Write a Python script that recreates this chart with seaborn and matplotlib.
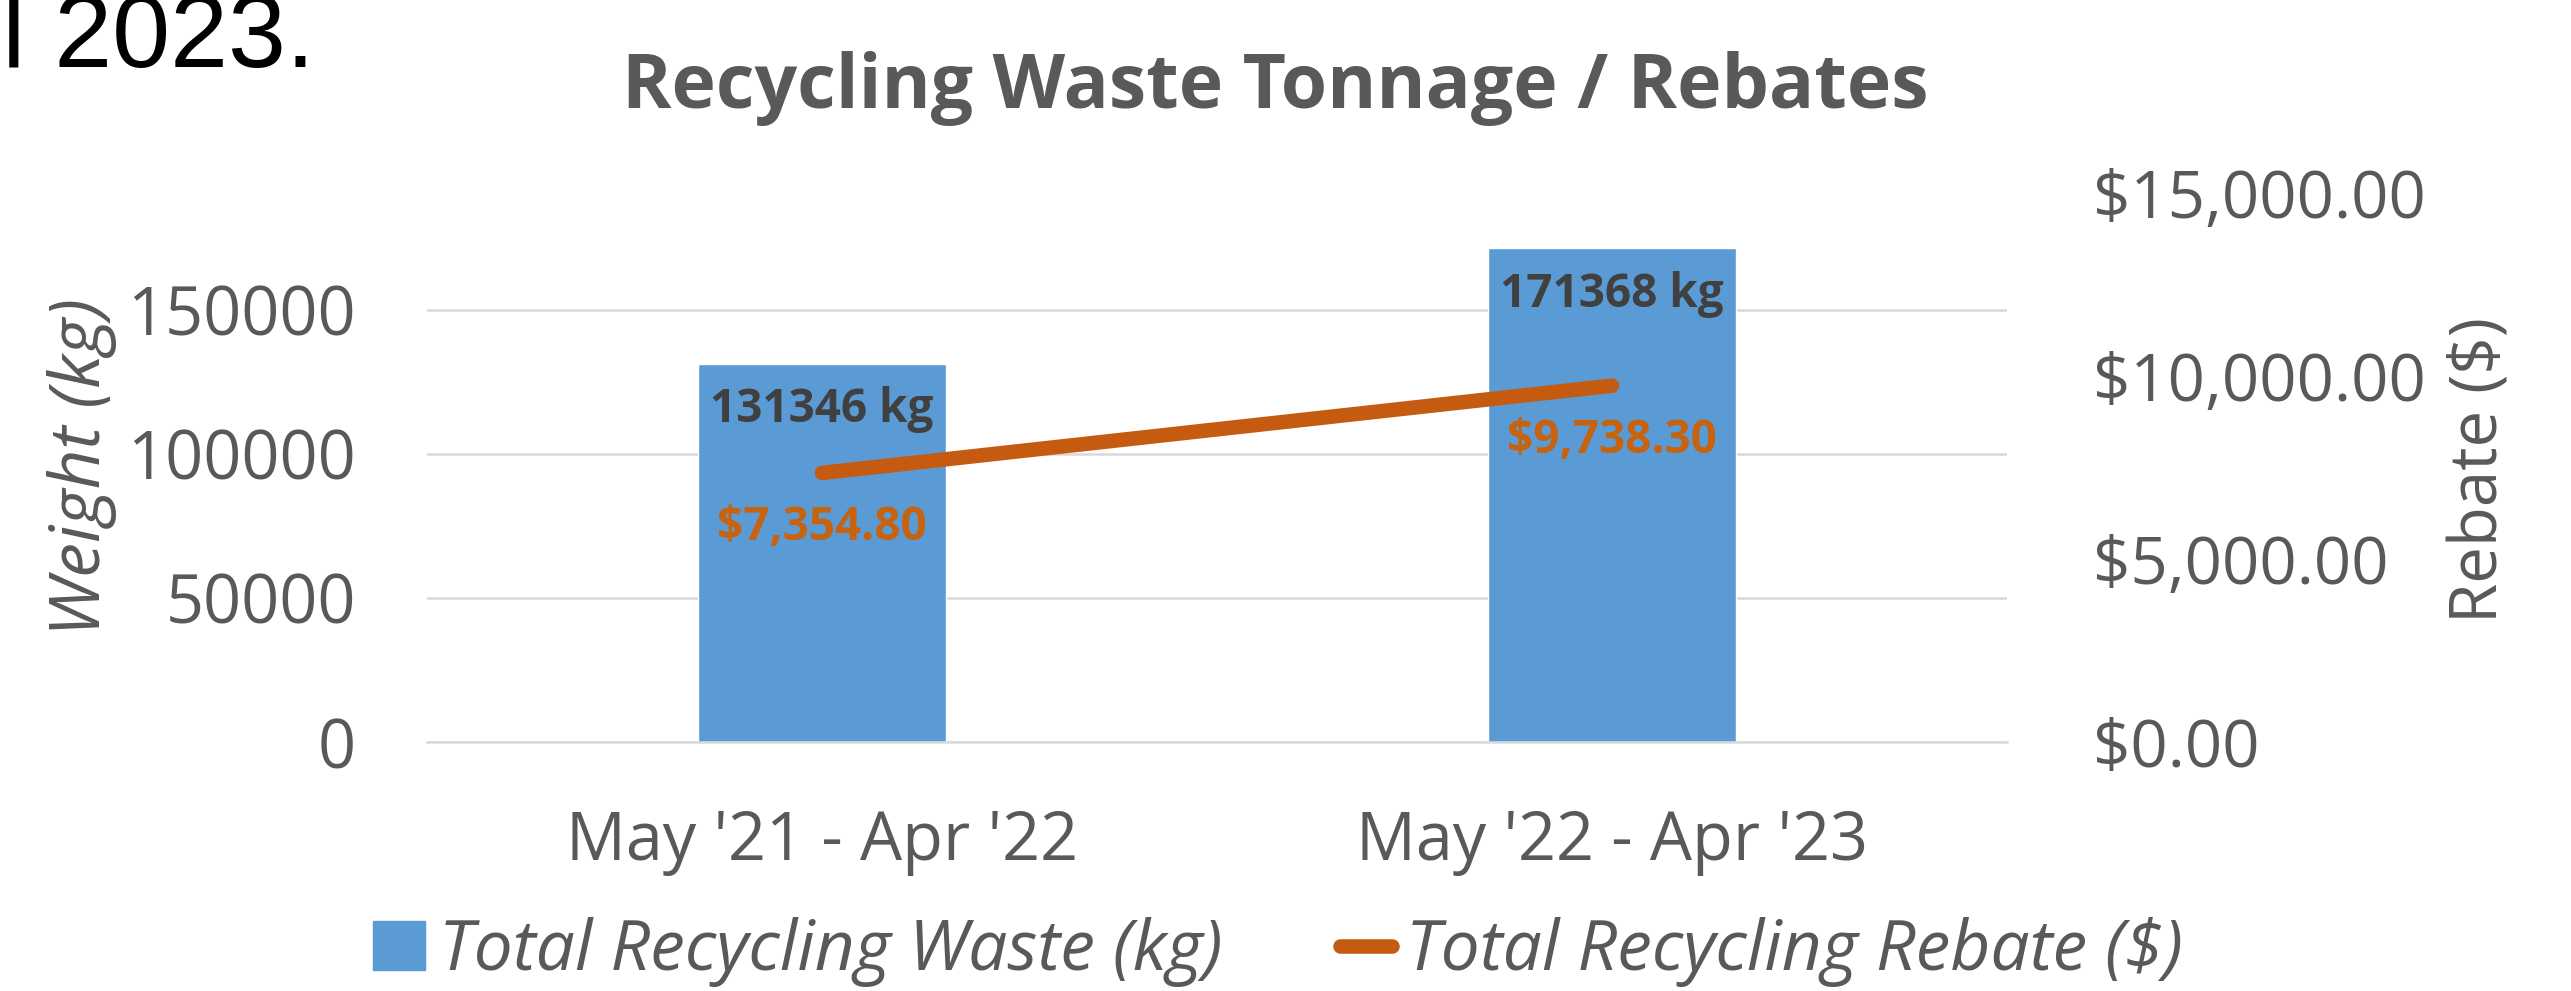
#Recycling waste tonnage / rebates - bar + line on twin axes

#Import the libraries
import numpy as np
import pandas as pd
import matplotlib
matplotlib.use('Agg')
import matplotlib.pyplot as plt
import seaborn as sns
from matplotlib.patches import Patch
from matplotlib.lines import Line2D

sns.set_style('white')
plt.rcParams['font.family'] = ['Open Sans', 'DejaVu Sans']

#The data
periods = ["May '21 - Apr '22", "May '22 - Apr '23"]
waste_kg = [131346, 171368]
rebate_usd = [7354.80, 9738.30]
weight_ticks = [0, 50000, 100000, 150000]
rebate_ticks = [0, 5000, 10000, 15000]

df = pd.DataFrame({'Period': periods, 'Waste': waste_kg, 'Rebate': rebate_usd})

#Colours
blue = '#5B9BD5'
orange = '#C55A11'
label_orange = '#C7620E'
grey_txt = '#595959'
dark_txt = '#404040'
grid_col = '#D9D9D9'

fig = plt.figure(figsize=(25.71, 9.91), dpi=100)
ax = fig.add_axes([427/2571, 1-742.3/991, 1580/2571, 549.3/991])

#Bars on the left axis
sns.barplot(data=df, x='Period', y='Waste', color=blue, width=0.314,
            saturation=1, ax=ax, zorder=2)
ax.set_ylim(0, 190600)
ax.set_xlim(-0.5, 1.5)
ax.set_yticks(weight_ticks)
ax.set_yticklabels([str(v) for v in weight_ticks])
ax.yaxis.grid(True, color=grid_col, lw=1.8, zorder=0)
ax.set_axisbelow(True)
ax.set_xlabel('')
ax.set_ylabel('')
for s in ['left', 'right', 'top']:
    ax.spines[s].set_visible(False)
ax.spines['bottom'].set_color(grid_col)
ax.spines['bottom'].set_linewidth(1.8)
ax.tick_params(axis='y', length=0, pad=51, labelsize=48, labelcolor=grey_txt)
ax.tick_params(axis='x', which='major', length=0, pad=48, labelsize=48, labelcolor=grey_txt)
ax.set_xticks([-0.5, 0.5, 1.5], minor=True)
ax.tick_params(axis='x', which='minor', length=16, width=1.8, color=grid_col, direction='out')

#Kg labels inside the bar tops
for i, v in enumerate(waste_kg):
    ax.annotate(f'{v} kg', (i, v), xytext=(0, -33), textcoords='offset points',
                ha='center', va='center', fontsize=33, fontweight='bold', color=dark_txt)

#Rebate line on the right axis
ax2 = ax.twinx()
sns.lineplot(x=np.arange(len(periods)), y=rebate_usd, ax=ax2, color=orange,
             lw=10.5, solid_capstyle='round')
ax2.set_ylim(0, 15000)
ax2.set_yticks(rebate_ticks)
ax2.set_yticklabels([f'${v:,.2f}' for v in rebate_ticks])
ax2.tick_params(axis='y', length=0, pad=62, labelsize=47, labelcolor=grey_txt)
ax2.grid(False)
for s in ['left', 'right', 'top', 'bottom']:
    ax2.spines[s].set_visible(False)
ax2.set_ylabel('')

for i, v in enumerate(rebate_usd):
    ax2.annotate(f'${v:,.2f}', (i, v), xytext=(0, -39.5), textcoords='offset points',
                 ha='center', va='center', fontsize=33, fontweight='bold', color=label_orange)

#Titles and axis names
fig.text(1275/2571, 1-108/991, 'Recycling Waste Tonnage / Rebates', ha='center',
         va='baseline', fontsize=54, fontweight='bold', color=grey_txt)
fig.text(82/2571, 1-467/991, 'Weight (kg)', rotation=90, ha='center', va='center',
         fontsize=50, fontstyle='italic', color=grey_txt)
fig.text(2480/2571, 1-470/991, 'Rebate ($)', rotation=90, ha='center', va='center',
         fontsize=47, color=grey_txt)

#Leftover slide text cut at the top left (cut in the reference too)
fig.text(315/2571, 1-67/991, 'April 2023.', ha='right', va='baseline', fontsize=75,
         family=['Liberation Sans', 'DejaVu Sans'], color='black')

#Legend
handles = [Patch(facecolor=blue, edgecolor=blue),
           Line2D([0], [0], color=orange, lw=10.5, solid_capstyle='round')]
leg = fig.legend(handles, ['Total Recycling Waste (kg)', 'Total Recycling Rebate ($)'],
                 loc='center', bbox_to_anchor=(1278/2571, 1-952/991), ncol=2, frameon=False,
                 prop={'size': 50, 'style': 'italic'}, handlelength=0.75, handleheight=0.7,
                 handletextpad=0.2, columnspacing=1.7)
for t in leg.get_texts():
    t.set_color(grey_txt)

fig.savefig('out.png', dpi=100)
